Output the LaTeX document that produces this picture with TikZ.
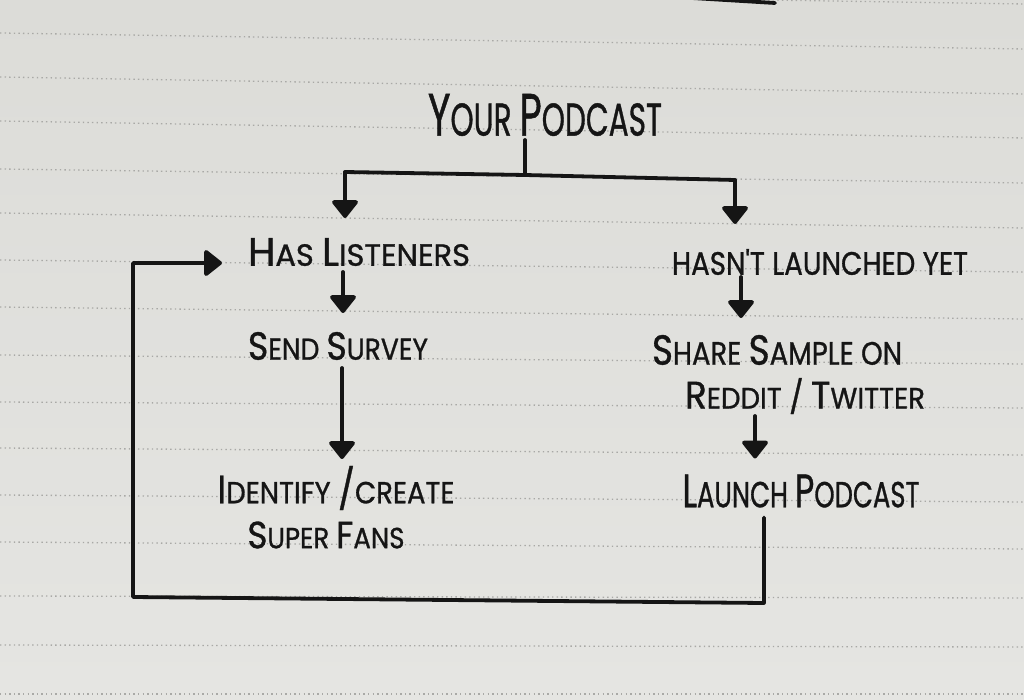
\documentclass[tikz,border=0pt]{standalone}
\usepackage{fontspec}
\setmainfont{Poppins}
\newfontfamily\handfont{Poppins}[FakeBold=1.0]
\usepackage{graphicx}
\usetikzlibrary{arrows.meta}
\definecolor{papertop}{HTML}{DCDCD8}
\definecolor{paperbot}{HTML}{E5E5E2}
\definecolor{ink}{HTML}{151515}
\definecolor{rulecol}{HTML}{A9A9A6}
\newcommand{\Bg}[1]{{\fontsize{13}{13}\selectfont #1}}
\newcommand{\Sm}[1]{{\fontsize{10}{10}\selectfont #1}}
\newcommand{\Sl}[1]{{\fontsize{11}{11}\selectfont #1}}
\newcommand{\hwtext}[3]{\resizebox*{#1}{#2}{\handfont #3}}
\tikzset{
  txt/.style={inner sep=0pt, outer sep=0pt, text=ink},
  conn/.style={draw=ink, line width=3.8pt, line cap=round, line join=round},
  arr/.style={conn, -{Triangle[width=29pt,length=19pt,round]}},
  rule/.style={draw=rulecol, line width=1.3pt, dash pattern=on 1.4pt off 3.2pt},
}
\begin{document}
\begin{tikzpicture}[x=1pt,y=-1pt]
\useasboundingbox (0,0) rectangle (1024,700);
\clip (0,0) rectangle (1024,700);
\shade[top color=papertop, bottom color=paperbot] (0,0) rectangle (1024,700);
% ruled paper lines
\foreach \a/\b in {-12/4, 33/49, 77/94, 121/138, 169/183, 213/228, 260/272, 307/319, 355/364, 402/408, 448/455, 495/502, 542/549, 596/598, 645/647, 694/694}
  \draw[rule] (0,\a) -- (1024,\b);
% fragment of a stroke at the top edge
\coordinate (topa) at (692,-2);
\coordinate (topb) at (775,3);
\draw[conn] (topa) -- (topb);
% texts
\node[txt] (root) at (545,115) {\hwtext{234pt}{42pt}{\Bg{Y}\Sm{OUR} \Bg{P}\Sm{ODCAST}}};
\node[txt] (has) at (359,252) {\hwtext{222pt}{28pt}{\Bg{H}\Sm{AS} \Bg{L}\Sm{ISTENERS}}};
\node[txt] (hasnt) at (820,262) {\hwtext{296pt}{26pt}{\Sm{HASN'T LAUNCHED YET}}};
\node[txt] (send) at (338,346) {\hwtext{180pt}{28pt}{\Bg{S}\Sm{END} \Bg{S}\Sm{URVEY}}};
\node[txt] (share) at (777,350) {\hwtext{250pt}{30pt}{\Bg{S}\Sm{HARE} \Bg{S}\Sm{AMPLE ON}}};
\node[txt] (reddit) at (805,396) {\hwtext{240pt}{36pt}{\Bg{R}\Sm{EDDIT} \Sl{/} \Bg{T}\Sm{WITTER}}};
\node[txt] (ident) at (336,488) {\hwtext{237pt}{44pt}{\Bg{I}\Sm{DENTIFY} \Bg{/}\Sm{CREATE}}};
\node[txt] (fans) at (326,535) {\hwtext{157pt}{27pt}{\Bg{S}\Sm{UPER} \Bg{F}\Sm{ANS}}};
\node[txt] (launch) at (801,491) {\hwtext{237pt}{33pt}{\Bg{L}\Sm{AUNCH} \Bg{P}\Sm{ODCAST}}};
% junctions
\coordinate (j) at (525,175);
\coordinate (jl) at (345,172);
\coordinate (jr) at (735,180);
\coordinate (l1) at (764,603);
\coordinate (l2) at (133,597);
\coordinate (l3) at (133,263);
% connectors
\draw[conn, shorten <=4pt] (root.south -| j) -- (j);
\draw[conn] (jl) -- (j) -- (jr);
\draw[arr, shorten >=20pt] (jl) -- (has.north -| jl);
\draw[arr, shorten >=25pt] (jr) -- (hasnt.north -| jr);
\draw[arr, shorten <=6pt, shorten >=19pt] (has.south -| 343,0) -- (send.north -| 343,0);
\draw[arr, shorten <=8pt, shorten >=7pt] (send.south -| 342,0) -- (ident.north -| 342,0);
\draw[arr, shorten <=2pt, shorten >=17pt] (hasnt.south -| 741,0) -- (share.north -| 741,0);
\draw[arr, shorten <=2pt, shorten >=16pt] (reddit.south -| 755,0) -- (launch.north -| 755,0);
\draw[arr, shorten <=10pt, shorten >=26pt] (launch.south -| l1) -- (l1) -- (l2) -- (l3) -- (has.west |- l3);
\end{tikzpicture}
\end{document}
